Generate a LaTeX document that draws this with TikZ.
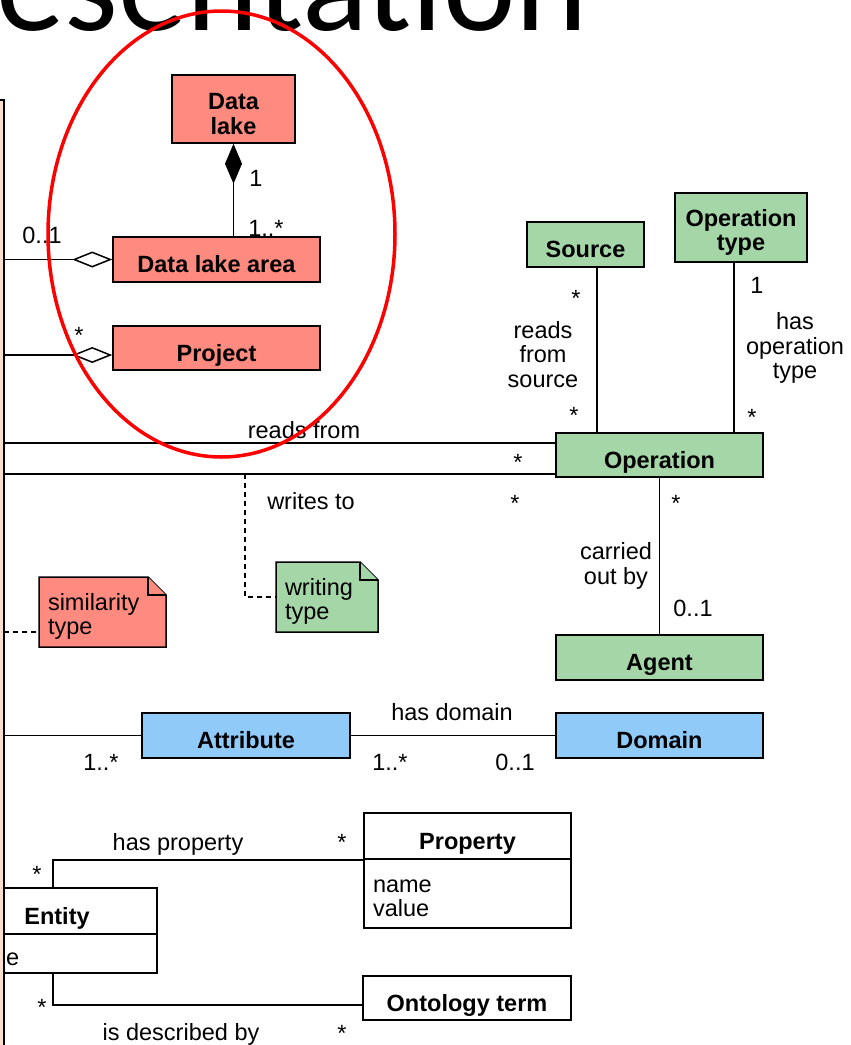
\documentclass[tikz,border=0pt]{standalone}
\usepackage{fontspec}
\setmainfont{Liberation Sans}
\newfontfamily\titlefont{Carlito}
\usetikzlibrary{arrows.meta,backgrounds}

\definecolor{lakered}{RGB}{255,138,128}
\definecolor{opgreen}{RGB}{165,214,167}
\definecolor{attrblue}{RGB}{144,202,249}
\definecolor{peach}{RGB}{251,222,205}

\newcommand{\umlfont}{\fontsize{23.5}{24.5}\selectfont}
% dog-eared note drawn behind a named node
\newcommand{\noteshape}[2]{%
  \begin{pgfonlayer}{background}
    \draw[line width=1.5pt, fill=#2] (#1.south west) -- (#1.north west) -- ([xshift=-18pt]#1.north east)
      -- ([yshift=-18pt]#1.north east) -- (#1.south east) -- cycle;
    \draw[line width=1.5pt, fill=#2] ([xshift=-18pt]#1.north east) -- ([xshift=-18pt,yshift=-18pt]#1.north east)
      -- ([yshift=-18pt]#1.north east);
  \end{pgfonlayer}}

\tikzset{
  cls/.style={draw, line width=1.5pt, font=\umlfont\bfseries, inner sep=0pt, align=center},
  onecls/.style={cls, text height=26pt, text depth=0pt},
  lakecls/.style={fill=lakered},
  opcls/.style={fill=opgreen},
  attrcls/.style={fill=attrblue},
  attrs/.style={draw, line width=1.5pt, fill=white, font=\umlfont, align=left, inner xsep=9pt, inner ysep=0pt},
  note/.style={font=\umlfont, align=left, inner xsep=9pt, inner ysep=0pt, outer sep=0pt},
  mult/.style={font=\umlfont, inner sep=0pt, anchor=base},
  assoc/.style={line width=1.5pt},
  dep/.style={line width=1.5pt, dash pattern=on 5pt off 4pt},
}

\begin{document}
\begin{tikzpicture}[x=1pt,y=-1pt]
\useasboundingbox (0,0) rectangle (851,1045);
\begin{pgfonlayer}{background}
  \fill[white] (0,0) rectangle (851,1045);
\end{pgfonlayer}
\clip (0,0) rectangle (851,1045);

% slide title, cut off
\node[anchor=base west, inner sep=0pt, font=\titlefont\fontsize{137.5}{137.5}\selectfont] (title) at (-4,30) {esentation};

% data lake part
\node[cls, lakecls, minimum width=123pt, minimum height=68pt] (datalake) at (233.5,109) {\rule{0pt}{26.5pt}Data\\lake};
\node[onecls, lakecls, minimum width=207pt, minimum height=45pt] (dlarea) at (216.5,259.5) {Data lake area};
\node[onecls, lakecls, minimum width=207pt, minimum height=44pt] (project) at (216.5,348) {Project};

% operations
\node[onecls, opcls, minimum width=117pt, minimum height=45pt] (source) at (585.5,244.5) {Source};
\node[cls, opcls, minimum width=132pt, minimum height=69pt] (optype) at (741,227.5) {\rule{0pt}{26.5pt}Operation\\type};
\node[onecls, opcls, minimum width=207pt, minimum height=44pt] (operation) at (659.5,455) {Operation};
\node[onecls, opcls, minimum width=207pt, minimum height=45pt] (agent) at (659.5,657.5) {Agent};

% notes
\node[note, text width=109pt, minimum height=70pt] (simtype) at (102.5,612) {\rule{0pt}{26pt}similarity\\type};
\noteshape{simtype}{lakered}
\node[note, text width=84pt, minimum height=70pt] (wrtype) at (327,597) {\rule{0pt}{26pt}writing\\type};
\noteshape{wrtype}{opgreen}

% attributes
\node[onecls, attrcls, minimum width=208pt, minimum height=45pt] (attribute) at (246,735.5) {Attribute};
\node[onecls, attrcls, minimum width=207pt, minimum height=45pt] (domain) at (659.5,735.5) {Domain};

% entity, property, ontology
\node[onecls, fill=white, minimum width=207pt, minimum height=46pt] (propname) at (467.5,836) {Property};
\node[attrs, text width=189pt, minimum height=69pt] (propattr) at (467.5,893.5) {\rule{0pt}{22pt}name\\value};
\node[onecls, fill=white, minimum width=200pt, minimum height=46pt] (enthead) at (57,911) {Entity};
\node[draw, line width=1.5pt, fill=white, minimum width=200pt, minimum height=39pt, inner sep=0pt] (entattr) at (57,953.5) {};
\node[mult, anchor=base west] (enttail) at (6,965) {e};
\node[onecls, fill=white, minimum width=208pt, minimum height=44pt] (ontology) at (467,998) {Ontology term};

% cut-off class on the left
\node[draw, line width=1.5pt, fill=peach, minimum width=40pt, minimum height=1000pt, inner sep=0pt, outer sep=0pt] (strip) at (-16,600) {};

% connectors
\draw[assoc, {Diamond[length=40pt,width=17pt]}-] (datalake.south) -- (datalake.south |- dlarea.north);
\draw[assoc, -{Diamond[open,length=40pt,width=16pt]}] (strip.east |- dlarea.west) -- (dlarea.west);
\coordinate (projin) at ([yshift=-7pt]project.west);
\draw[assoc, -{Diamond[open,length=40pt,width=16pt]}] (strip.east |- projin) -- (projin);

\coordinate (rdfrom) at ([yshift=12pt]operation.west);
\coordinate (wrto) at ([yshift=-19pt]operation.west);
\draw[assoc] (strip.east |- rdfrom) -- (rdfrom);
\draw[assoc] (strip.east |- wrto) -- (wrto);
\coordinate (wrfoot) at (245,0 |- wrto);
\draw[dep] (wrfoot) |- (wrtype.west);
\coordinate (simin) at ([yshift=-20pt]simtype.west);
\draw[dep] (strip.east |- simin) -- (simin);

\coordinate (srcfoot) at ([xshift=11.5pt]source.south);
\draw[assoc] (srcfoot) -- (srcfoot |- operation.north);
\coordinate (optfoot) at ([xshift=-7pt]optype.south);
\draw[assoc] (optfoot) -- (optfoot |- operation.north);
\draw[assoc] (operation.south) -- (agent.north);

\draw[assoc] (strip.east |- attribute.west) -- (attribute.west);
\draw[assoc] (attribute.east) -- (domain.west);

\coordinate (enttop) at ([xshift=-4pt]enthead.north);
\coordinate (entbot) at ([xshift=-4pt]entattr.south);
\draw[assoc] (enttop) |- (propname.south west);
\draw[assoc] (entbot) |- ([yshift=-7pt]ontology.west);

% labels and multiplicities
\node[mult] (m1) at (256,186) {1};
\node[mult] (m2) at (266,236) {1..*};
\node[mult] (m3) at (42,243) {0..1};
\node[mult] (m4) at (79,343) {*};
\node[mult] (lreads) at (304,438) {reads from};
\node[mult] (m5) at (518,470) {*};
\node[mult] (m6) at (515,511) {*};
\node[mult] (lwrites) at (311,509) {writes to};
\node[mult] (m7) at (576,306) {*};
\node[mult] (m8) at (574,423) {*};
\node[mult, anchor=center, align=center] (lsrc) at (543,354.5) {reads\\from\\source};
\node[mult] (m9) at (757,293) {1};
\node[mult] (m10) at (752,425) {*};
\node[mult, anchor=center, align=center] (lhasop) at (795,348) {has\\operation\\type};
\node[mult] (m11) at (676,511) {*};
\node[mult] (m12) at (693,616) {0..1};
\node[mult, anchor=center, align=center] (lcarried) at (616,566) {carried\\out by};
\node[mult] (lhasdom) at (452,720) {has domain};
\node[mult] (m13) at (101,770) {1..*};
\node[mult] (m14) at (390,770) {1..*};
\node[mult] (m15) at (515,770) {0..1};
\node[mult] (lhasprop) at (178,850) {has property};
\node[mult] (m16) at (342,850) {*};
\node[mult] (m17) at (37,882) {*};
\node[mult] (m18) at (42,1015) {*};
\node[mult] (ldescr) at (181,1040) {is described by};
\node[mult] (m19) at (342,1041) {*};

% highlight
\draw[red, line width=3.5pt] (221.5,234) ellipse [x radius=173.5, y radius=223];
\end{tikzpicture}
\end{document}
